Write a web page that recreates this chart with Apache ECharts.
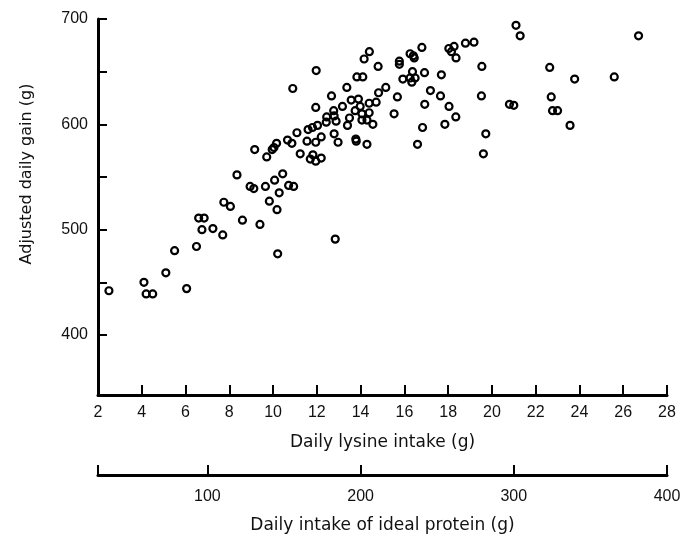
<!DOCTYPE html>
<html>
<head>
<meta charset="utf-8">
<script src="https://cdn.jsdelivr.net/npm/echarts@6/dist/echarts.min.js"></script>
<style>html,body{margin:0;padding:0;background:#fff}#c{width:693px;height:539px}</style>
</head>
<body>
<div id="c"></div>
<script>
// Daily lysine intake (g)
var lysine = [2.5,4.1,4.2,4.5,5.1,5.5,6.05,6.5,6.6,6.85,6.75,7.25,7.7,7.75,8.05,8.35,8.6,8.95,
  9.12,9.16,9.4,9.65,9.71,9.83,9.96,10.04,10.16,10.07,10.18,10.21,10.28,10.44,10.66,10.71,10.86,10.9,10.94,
  11.09,11.24,11.55,11.6,11.8,12.03,11.95,12.2,11.7,11.82,11.95,12.2,11.97,11.95,12.43,12.45,12.79,12.88,12.67,12.77,12.79,12.84,12.97,
  13.17,13.37,13.4,13.49,13.57,13.9,13.75,13.98,14.06,14.39,14.29,14.06,14.56,13.78,13.8,14.29,13.83,14.1,14.16,14.4,14.8,14.39,14.71,14.82,
  15.15,15.53,15.68,15.77,15.77,15.93,16.26,16.34,16.49,16.26,16.41,16.45,16.37,16.6,16.8,16.83,16.92,16.93,17.19,17.65,17.69,17.85,
  18.03,18.27,18.15,18.36,18.04,18.35,18.79,19.18,19.52,19.54,19.61,19.72,20.8,21.0,21.1,21.29,22.64,22.71,22.77,23.0,23.57,23.78,25.59,26.7];
// Adjusted daily gain (g)
var gain = [442,450,439,439,459,480,444,484,511,511,500,501,495,526,522,552,509,541,
  539,576,505,541,569,527,576,578,582,547,519,477,535,553,585,542,582,634,541,
  592,572,584,595,597,599,583,588,567,571,565,568,651,616,602,607,608,603,627,613,591,491,583,
  617,635,599,606,623,624,613,617,610,611,604,604,600,586,584,581,645,645,662,669,655,620,621,630,
  635,610,626,660,657,643,644,640,644,667,665,663,650,581,673,597,649,619,632,627,647,600,
  672,674,669,663,617,607,677,678,627,655,572,591,619,618,694,684,654,626,613,613,599,643,645,684];

var lysineTicks = [2,4,6,8,10,12,14,16,18,20,22,24,26,28];
var proteinTicks = [100,200,300,400];
var gainTicks = [400,500,600,700];
var gainMinorTicks = [400,450,500,550,600,650,700];
var lysineToProtein = 1 / 0.07; // ideal protein contains 7% lysine

var points = lysine.map(function(v, i){ return [v, gain[i]]; });

var font = 'Liberation Sans, Arial, sans-serif';
var titleFont = 'DejaVu Sans, sans-serif';
var chart = echarts.init(document.getElementById('c'), null, {renderer:'canvas'});
var axisLine = {show:true, onZero:false, lineStyle:{color:'#000', width:3}};
var xMin = 2, xMax = 28;
chart.setOption({
  animation:false,
  backgroundColor:'#fff',
  grid:{left:98, right:26, top:19, bottom:144, containLabel:false},
  xAxis:[{
    type:'value', min:xMin, max:xMax, position:'bottom',
    axisLine:axisLine,
    splitLine:{show:false},
    axisTick:{show:true, inside:true, length:10, customValues:lysineTicks, lineStyle:{color:'#000', width:2}},
    axisLabel:{show:true, customValues:lysineTicks, margin:10, color:'#111', fontSize:16, fontFamily:font},
    name:'Daily lysine intake (g)', nameLocation:'middle', nameGap:39,
    nameTextStyle:{color:'#111', fontSize:17, fontFamily:titleFont}
  },{
    type:'value', min:xMin*lysineToProtein, max:xMax*lysineToProtein, position:'bottom', offset:80,
    axisLine:axisLine,
    splitLine:{show:false},
    axisTick:{show:true, inside:true, length:10, customValues:[xMin*lysineToProtein].concat(proteinTicks), lineStyle:{color:'#000', width:2}},
    axisLabel:{show:true, customValues:proteinTicks, margin:14, color:'#111', fontSize:16, fontFamily:font},
    name:'Daily intake of ideal protein (g)', nameLocation:'middle', nameGap:42,
    nameTextStyle:{color:'#111', fontSize:17, fontFamily:titleFont}
  }],
  yAxis:{
    type:'value', min:343, max:700,
    axisLine:axisLine,
    splitLine:{show:false},
    axisTick:{show:true, inside:true, length:9, customValues:gainMinorTicks, lineStyle:{color:'#000', width:2}},
    axisLabel:{show:true, customValues:gainTicks, margin:10, color:'#111', fontSize:16, fontFamily:font}
  },
  graphic:[{
    type:'text', x:27, y:174, rotation:Math.PI/2,
    style:{text:'Adjusted daily gain (g)', fill:'#111', fontSize:16, fontFamily:titleFont, align:'center', verticalAlign:'middle'}
  }],
  series:[{
    type:'scatter', xAxisIndex:0, yAxisIndex:0,
    data:points,
    symbol:'circle', symbolSize:7,
    itemStyle:{color:'rgba(0,0,0,0)', borderColor:'#000', borderWidth:2.2, opacity:1}
  }]
});
</script>
</body>
</html>
